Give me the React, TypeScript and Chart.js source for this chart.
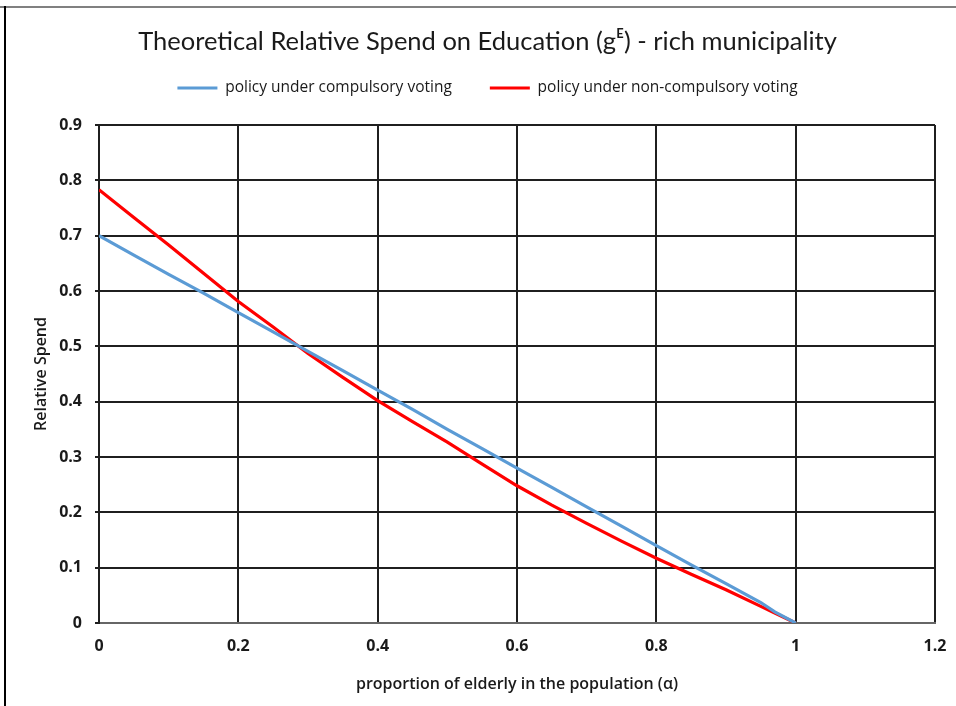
import React, { useEffect, useRef } from "react";
import { Chart, registerables } from "chart.js";

Chart.register(...registerables);

const titleText = "Theoretical Relative Spend on Education (gᴱ) - rich municipality";
const seriesNames = ["policy under compulsory voting", "policy under non-compulsory voting"];
const alphaValues = [0, 0.05, 0.1, 0.15, 0.2, 0.25, 0.3, 0.35, 0.4, 0.45, 0.5, 0.55, 0.6, 0.65, 0.7, 0.75, 0.8, 0.85, 0.9, 0.95, 0.97, 1];
const compulsoryValues = [0.700, 0.665, 0.630, 0.596, 0.561, 0.526, 0.491, 0.456, 0.421, 0.386, 0.350, 0.315, 0.280, 0.245, 0.210, 0.175, 0.140, 0.105, 0.071, 0.037, 0.020, 0];
const nonCompulsoryValues = [0.783, 0.733, 0.683, 0.632, 0.581, 0.535, 0.487, 0.444, 0.402, 0.364, 0.327, 0.287, 0.248, 0.213, 0.180, 0.148, 0.117, 0.088, 0.060, 0.030, 0.018, 0];
const xTitle = "proportion of elderly in the population (α)";
const yTitle = "Relative Spend";

const TITLE_FONT = "Lato, 'Open Sans', sans-serif";
const FONT = "'Open Sans', Lato, sans-serif";

const fmt = (v: any) => String(Number(Number(v).toFixed(1)));

const legendSpacing = {
  id: "legendSpacing",
  beforeInit(chart: any) {
    const legend = chart.legend;
    if (!legend) return;
    const origFit = legend.fit;
    legend.fit = function () {
      origFit.call(this);
      this.height += 19.25;
    };
  },
};

export default function App() {
  const ref = useRef<HTMLCanvasElement | null>(null);

  useEffect(() => {
    if (!ref.current) return;
    const chart = new Chart(ref.current, {
      type: "line",
      data: {
        datasets: [
          {
            label: seriesNames[0],
            data: alphaValues.map((a, i) => ({ x: a, y: compulsoryValues[i] })),
            borderColor: "#5b9bd5",
            backgroundColor: "#5b9bd5",
            borderWidth: 3.2,
            pointRadius: 0,
            tension: 0,
          },
          {
            label: seriesNames[1],
            data: alphaValues.map((a, i) => ({ x: a, y: nonCompulsoryValues[i] })),
            borderColor: "#ff0000",
            backgroundColor: "#ff0000",
            borderWidth: 3.2,
            pointRadius: 0,
            tension: 0,
          },
        ],
      },
      options: {
        responsive: false,
        animation: false,
        devicePixelRatio: 1,
        layout: { padding: { left: 40, right: 21, top: 10, bottom: 0 } },
        plugins: {
          title: {
            display: true,
            text: titleText,
            color: "#1a1a1a",
            font: { family: TITLE_FONT, size: 25.5, weight: "normal" },
            padding: { top: 16.7, bottom: -15.05 },
          },
          legend: {
            display: true,
            position: "top",
            labels: {
              boxWidth: 40,
              boxHeight: 3,
              padding: 38,
              color: "#1a1a1a",
              font: { family: FONT, size: 15.5, weight: "normal" },
              generateLabels(c: any) {
                return c.data.datasets.map((d: any, i: number) => ({
                  text: d.label,
                  fillStyle: d.borderColor,
                  strokeStyle: d.borderColor,
                  lineWidth: 0,
                  fontColor: "#1a1a1a",
                  hidden: false,
                  datasetIndex: i,
                }));
              },
            },
          },
          tooltip: { enabled: false },
        },
        scales: {
          x: {
            type: "linear",
            min: 0,
            max: 1.2,
            ticks: {
              stepSize: 0.2,
              padding: 13.4,
              color: "#1a1a1a",
              font: { family: FONT, size: 16, weight: "bold" },
              maxRotation: 0,
              callback: fmt,
            },
            grid: { color: "#1f1f1f", lineWidth: 2, drawTicks: false },
            border: { color: "#666", width: 2 },
            title: {
              display: true,
              text: xTitle,
              color: "#1a1a1a",
              font: { family: FONT, size: 16, weight: "600" },
              padding: { top: 0, bottom: 12.4 },
            },
            afterFit(scale: any) {
              scale.height = 83;
              scale.paddingLeft = 0;
              scale.paddingRight = 0;
            },
          },
          y: {
            type: "linear",
            min: 0,
            max: 0.9,
            ticks: {
              stepSize: 0.1,
              padding: 13,
              color: "#1a1a1a",
              font: { family: FONT, size: 16, weight: "bold" },
              callback: fmt,
            },
            grid: { color: "#1f1f1f", lineWidth: 2, drawTicks: true, tickLength: 4 },
            border: { color: "#1f1f1f", width: 2 },
            title: {
              display: true,
              text: yTitle,
              color: "#1a1a1a",
              font: { family: FONT, size: 16, weight: "600" },
              padding: { top: -8.6, bottom: 0 },
            },
            afterFit(scale: any) {
              scale.width = 59;
            },
          },
        },
      },
      plugins: [legendSpacing],
    } as any);
    return () => chart.destroy();
  }, []);

  return (
    <div
      style={{
        position: "fixed",
        left: 0,
        top: 0,
        width: 956,
        height: 706,
        background: "#fff",
        overflow: "hidden",
      }}
    >
      <canvas ref={ref} width={956} height={706} style={{ position: "absolute", left: 0, top: 0 }} />
      <div style={{ position: "absolute", left: 0, top: 6, width: 956, height: 2, background: "#808080" }} />
      <div style={{ position: "absolute", left: 4, top: 6, width: 2, height: 700, background: "#000" }} />
    </div>
  );
}
